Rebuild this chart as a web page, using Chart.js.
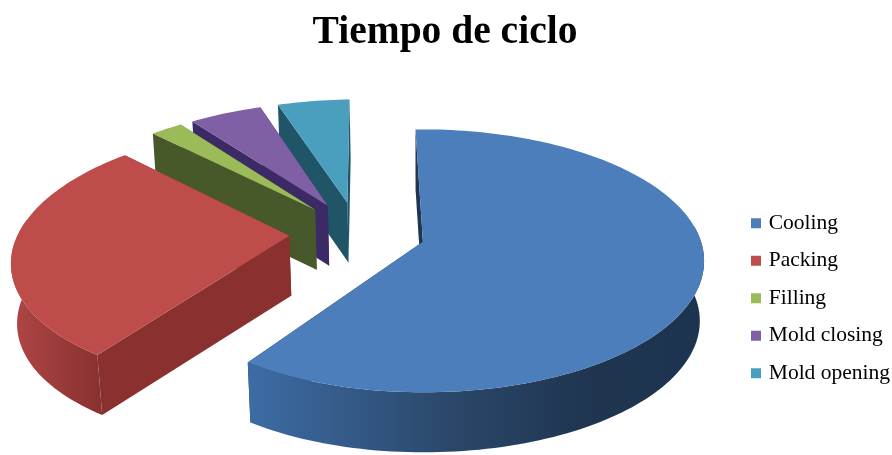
<!DOCTYPE html>
<html lang="es">
<head>
    <meta charset="UTF-8">
    <title>Tiempo de ciclo</title>
    <script src="https://cdn.jsdelivr.net/npm/chart.js"></script>
    <style>
        html, body { margin: 0; background: #fff; }
        canvas { display: block; }
    </style>
</head>
<body>
    <canvas id="cycleChart" width="892" height="455"></canvas>

    <script>
        const phases = ['Cooling', 'Packing', 'Filling', 'Mold closing', 'Mold opening'];
        const shares = [60, 27.8, 2.2, 5, 5];

        const topColors = ['#4c7ebb', '#bd4c4a', '#9bbb59', '#7f60a4', '#4a9fbf'];
        const cutColors = ['#1f3552', '#8a3130', '#47592a', '#3b2a66', '#1f5566'];
        const wallStops = [
            [[0, '#3d6ca5'], [0.45, '#2a4769'], [0.75, '#1f3550'], [1, '#1d3450']],
            [[0, '#b04644'], [1, '#8a3231']],
            [[0, '#47592a'], [1, '#47592a']],
            [[0, '#3b2a66'], [1, '#3b2a66']],
            [[0, '#1f5566'], [1, '#1f5566']]
        ];

        // Perspective of the tilted pie, in units of the chart's own radius
        const view = {
            scaleRight: 1.869, scaleLeft: 1.84, scaleY: 0.856, persp: 0.1443, vanish: 0.2325,
            depth: 60, converge: 0.015, shiftX: -12.5, shiftY: -1.5
        };

        function project(arc, planeX, planeZ, lowered) {
            const q = 1 / (1 + view.persp * planeZ);
            const r = arc.outerRadius;
            const vx = arc.x + view.shiftX + r * view.scaleRight * view.vanish;
            const scaleX = planeX < view.vanish ? view.scaleLeft : view.scaleRight;
            const x = vx + r * scaleX * (planeX - view.vanish) * q;
            const y = arc.y + view.shiftY - r * view.scaleY * planeZ * q;
            if (!lowered) return [x, y];
            return [x + (vx - x) * view.converge, y + view.depth];
        }

        function fillPath(ctx, points, style) {
            ctx.beginPath();
            points.forEach((p, i) => (i ? ctx.lineTo(p[0], p[1]) : ctx.moveTo(p[0], p[1])));
            ctx.closePath();
            ctx.fillStyle = style;
            ctx.fill();
        }

        // Extrudes every arc element downwards, back slices first
        const pie3d = {
            id: 'pie3d',
            beforeDatasetDraw(chart, args) {
                const ctx = chart.ctx;
                const arcs = chart.getDatasetMeta(args.index).data;
                for (let i = arcs.length - 1; i >= 0; i--) {
                    const arc = arcs[i].getProps(['x', 'y', 'startAngle', 'endAngle', 'outerRadius'], true);
                    const explode = arcs[i].options.offset / arc.outerRadius;
                    const mid = (arc.startAngle + arc.endAngle) / 2;
                    const ax = explode * Math.cos(mid);
                    const az = -explode * Math.sin(mid);

                    const rim = [];
                    const steps = Math.ceil((arc.endAngle - arc.startAngle) * 40);
                    for (let s = 0; s <= steps; s++) {
                        const a = arc.startAngle + (arc.endAngle - arc.startAngle) * s / steps;
                        rim.push({ plane: [ax + Math.cos(a), az - Math.sin(a)], front: Math.sin(a) > -view.persp });
                    }
                    const topRim = rim.map(p => project(arc, p.plane[0], p.plane[1], false));
                    const lowRim = rim.map(p => project(arc, p.plane[0], p.plane[1], true));
                    const apexTop = project(arc, ax, az, false);
                    const apexLow = project(arc, ax, az, true);

                    // cut faces first, then the part of the rim that faces the viewer, then the top
                    fillPath(ctx, [apexTop, topRim[topRim.length - 1], lowRim[lowRim.length - 1], apexLow], cutColors[i]);
                    fillPath(ctx, [apexTop, topRim[0], lowRim[0], apexLow], cutColors[i]);

                    const frontTop = topRim.filter((p, s) => rim[s].front);
                    const frontLow = lowRim.filter((p, s) => rim[s].front);
                    if (frontTop.length > 1) {
                        const xs = frontTop.map(p => p[0]);
                        const gradient = ctx.createLinearGradient(Math.min(...xs), 0, Math.max(...xs), 0);
                        wallStops[i].forEach(stop => gradient.addColorStop(stop[0], stop[1]));
                        fillPath(ctx, frontTop.concat(frontLow.reverse()), gradient);
                    }
                    fillPath(ctx, [apexTop].concat(topRim), topColors[i]);
                }
                return false;
            }
        };

        new Chart(document.getElementById('cycleChart'), {
            type: 'pie',
            data: {
                labels: phases,
                datasets: [{
                    data: shares,
                    backgroundColor: topColors,
                    borderWidth: 0,
                    offset: 37
                }]
            },
            options: {
                responsive: false,
                animation: false,
                rotation: -1.7,
                layout: { padding: { left: -10, right: -8, bottom: 55 } },
                plugins: {
                    title: {
                        display: true,
                        text: 'Tiempo de ciclo',
                        color: '#000',
                        font: { family: '"Liberation Serif", "Times New Roman", serif', size: 39.5, weight: 'bold', lineHeight: 1.15 },
                        padding: { top: 10, bottom: 13 }
                    },
                    legend: {
                        position: 'right',
                        align: 'end',
                        labels: {
                            color: '#222',
                            font: { family: '"Liberation Serif", "Times New Roman", serif', size: 21.5 },
                            boxWidth: 4,
                            boxHeight: 4,
                            padding: 16,
                            // thick stroke widens the swatch while keeping it close to its text
                            generateLabels: chart => phases.map((name, i) => ({
                                text: name,
                                fillStyle: topColors[i],
                                strokeStyle: topColors[i],
                                lineWidth: 6,
                                hidden: false,
                                index: i
                            }))
                        }
                    },
                    tooltip: { enabled: false }
                }
            },
            plugins: [pie3d]
        });
    </script>
</body>
</html>
